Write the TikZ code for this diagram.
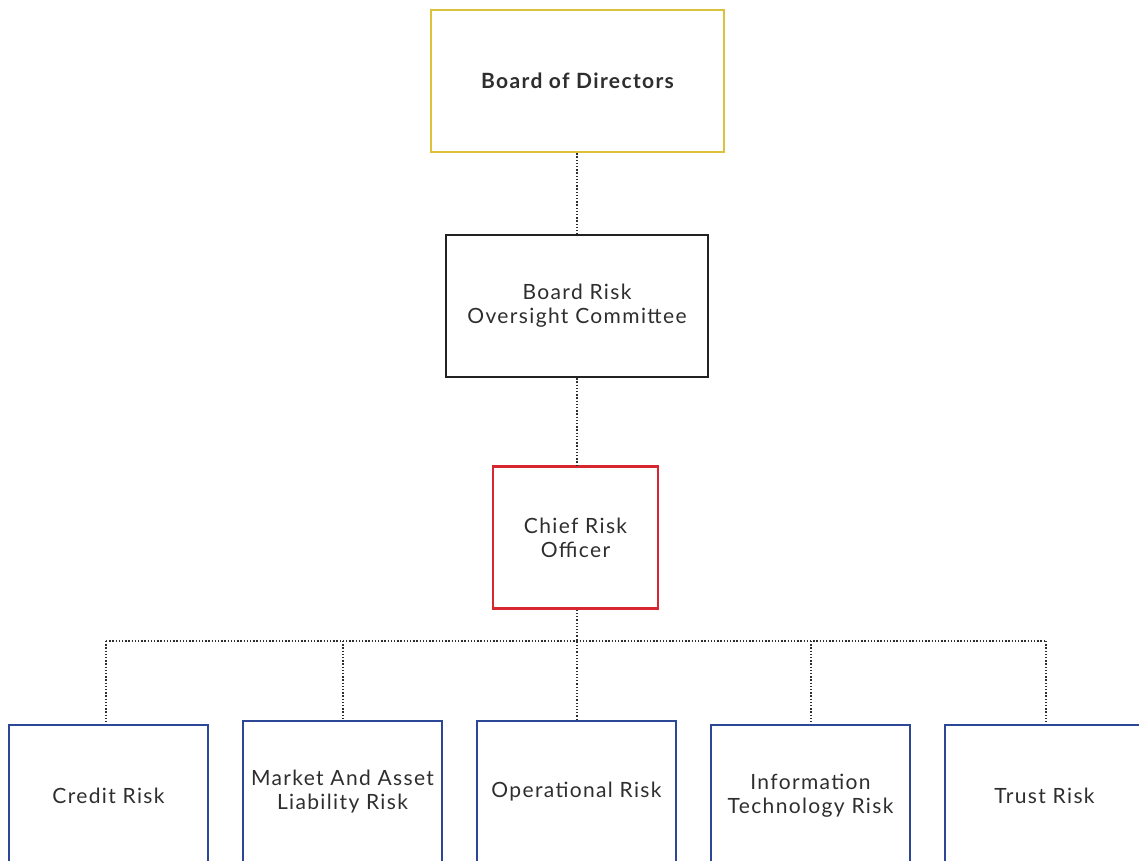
\documentclass[tikz,border=0pt]{standalone}
\usepackage{fontspec}
\setmainfont[LetterSpace=6.5]{Lato}
\definecolor{txt}{HTML}{2E2E2E}
\definecolor{gold}{HTML}{DCC13A}
\definecolor{redb}{HTML}{D82630}
\definecolor{blueb}{HTML}{2B4796}
\definecolor{blackb}{HTML}{222222}
\begin{document}
\begin{tikzpicture}[x=1pt,y=-1pt,
  box/.style={draw, line width=2.5pt, fill=white, align=center, inner sep=0pt,
    text=txt, font=\fontsize{21}{24}\selectfont, minimum height=142pt},
  link/.style={line width=1.3pt, txt, dash pattern=on 1.3pt off 1.9pt}]
\useasboundingbox (0,0) rectangle (1139,860);
\clip (0,0) rectangle (1139,860);
\node[box, draw=gold, minimum width=293pt, font=\fontsize{21}{24}\selectfont\bfseries] (bod) at (577.5,81) {Board of Directors};
\node[box, draw=blackb, minimum width=262pt] (broc) at (577,306) {Board Risk\\Oversight Committee};
\node[box, draw=redb, minimum width=165pt] (cro) at (575.5,537.5) {Chief Risk\\Officer};
\node[box, draw=blueb, minimum width=199pt] (cr) at (108.5,796) {Credit Risk};
\node[box, draw=blueb, minimum width=199pt] (mr) at (342.5,792) {Market And Asset\\Liability Risk};
\node[box, draw=blueb, minimum width=199pt] (op) at (576.5,792) {Operational Risk};
\node[box, draw=blueb, minimum width=199pt] (it) at (810.5,796) {Information\\Technology Risk};
\node[box, draw=blueb, minimum width=199pt] (tr) at (1044.5,796) {Trust Risk};
\coordinate (hub) at (577,641);
\coordinate (hl) at (106,641);
\coordinate (hr) at (1046,641);
\draw[link] (bod.south -| 577,0) -- (broc.north -| 577,0);
\draw[link] (broc.south -| 577,0) -- (cro.north -| 577,0);
\draw[link] (cro.south -| 577,0) -- (op.north -| 577,0);
\draw[link] (hl) -- (hr);
\draw[link] (hl) -- (cr.north -| hl);
\draw[link] (343,641) -- (mr.north -| 343,0);
\draw[link] (811,641) -- (it.north -| 811,0);
\draw[link] (hr) -- (tr.north -| hr);
\end{tikzpicture}
\end{document}
